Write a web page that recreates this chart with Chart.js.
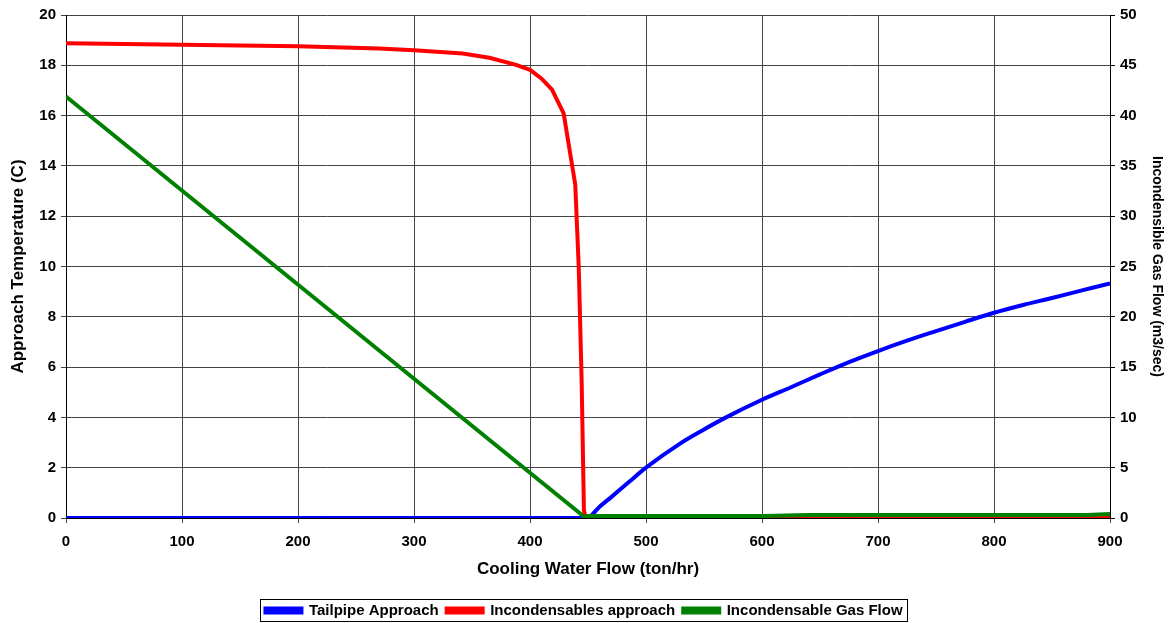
<!DOCTYPE html>
<html>
<head>
<meta charset="utf-8">
<script src="https://cdn.jsdelivr.net/npm/chart.js@4.4.1/dist/chart.umd.min.js"></script>
<style>
  html, body { margin: 0; padding: 0; background: #fff; }
  #wrap { width: 1168px; height: 623px; overflow: hidden; }
</style>
</head>
<body>
<div id="wrap"><canvas id="chart" width="1168" height="623"></canvas></div>
<script>
// flow values (ton/hr) and readings
const tailpipeFlow = [0, 100, 200, 300, 400, 449, 460, 471, 485, 500, 529, 550, 569, 600, 625, 650, 675, 700, 725, 750, 775, 800, 825, 850, 875, 900];
const tailpipeApproach = [0, 0, 0, 0, 0, 0, 0.45, 0.87, 1.42, 2.0, 2.95, 3.52, 4.0, 4.7, 5.2, 5.71, 6.2, 6.64, 7.05, 7.43, 7.8, 8.16, 8.47, 8.75, 9.04, 9.33];

const incondFlow = [0, 100, 200, 270, 300, 342, 365, 388, 400, 410, 419, 429, 439, 442, 444.5, 446.5, 448, 600, 900];
const incondApproach = [18.88, 18.82, 18.76, 18.67, 18.6, 18.47, 18.3, 18.02, 17.82, 17.47, 17.03, 16.09, 13.26, 10.0, 5.5, 0.3, 0, 0, 0];

const gasFlowX = [0, 447, 450, 600, 640, 880, 900];
const gasFlow = [41.9, 0.1, 0.2, 0.2, 0.3, 0.3, 0.4];

const leftTicks = [0, 2, 4, 6, 8, 10, 12, 14, 16, 18, 20];
const rightTicks = [0, 5, 10, 15, 20, 25, 30, 35, 40, 45, 50];

function toPoints(xs, ys) {
  return xs.map(function (x, i) { return { x: x, y: ys[i] }; });
}

Chart.defaults.font.family = '"Liberation Sans", Arial, sans-serif';
Chart.defaults.color = '#000';

// thin frame around the legend, as in the original
const legendFrame = {
  id: 'legendFrame',
  afterDraw: function (chart) {
    const boxes = chart.legend && chart.legend.legendHitBoxes;
    if (!boxes || !boxes.length) return;
    let l = Infinity, r = -Infinity, t = Infinity, b = -Infinity;
    boxes.forEach(function (h) {
      l = Math.min(l, h.left); r = Math.max(r, h.left + h.width);
      t = Math.min(t, h.top); b = Math.max(b, h.top + h.height);
    });
    const c = chart.ctx;
    c.save();
    c.strokeStyle = '#000';
    c.lineWidth = 1;
    c.strokeRect(Math.round(l - 5) + 0.5, Math.round(t - 4) + 0.5, Math.round(r - l + 10), Math.round(b - t + 7));
    c.restore();
  }
};

const ctx = document.getElementById('chart');

new Chart(ctx, {
  type: 'line',
  data: {
    datasets: [
      {
        label: 'Tailpipe Approach',
        data: toPoints(tailpipeFlow, tailpipeApproach),
        borderColor: '#0000ff',
        backgroundColor: '#0000ff',
        borderWidth: 4,
        pointRadius: 0,
        cubicInterpolationMode: 'monotone',
        yAxisID: 'y',
        order: 3
      },
      {
        label: 'Incondensables approach',
        data: toPoints(incondFlow, incondApproach),
        borderColor: '#ff0000',
        backgroundColor: '#ff0000',
        borderWidth: 4,
        pointRadius: 0,
        tension: 0,
        yAxisID: 'y',
        order: 2
      },
      {
        label: 'Incondensable Gas Flow',
        data: toPoints(gasFlowX, gasFlow),
        borderColor: '#008000',
        backgroundColor: '#008000',
        borderWidth: 4,
        pointRadius: 0,
        tension: 0,
        yAxisID: 'y1',
        order: 1
      }
    ]
  },
  options: {
    responsive: false,
    animation: false,
    layout: { padding: { left: 0, right: 0, top: 15, bottom: -5 } },
    plugins: {
      tooltip: { enabled: false },
      legend: {
        display: true,
        position: 'bottom',
        labels: {
          boxWidth: 36,
          boxHeight: 4,
          padding: 8,
          font: { size: 15, weight: 'bold' },
          sort: function (a, b) { return a.datasetIndex - b.datasetIndex; }
        }
      }
    },
    scales: {
      x: {
        type: 'linear',
        min: 0,
        max: 900,
        afterFit: function (axis) { axis.height = 77; },
        ticks: { stepSize: 100, font: { size: 15, weight: 'bold' }, padding: 10 },
        grid: { color: '#444', lineWidth: 1, tickLength: 5 },
        border: { color: '#000' },
        title: {
          display: true,
          text: 'Cooling Water Flow (ton/hr)',
          font: { size: 17, weight: 'bold' },
          padding: { top: 4, bottom: 15 }
        }
      },
      y: {
        type: 'linear',
        position: 'left',
        min: 0,
        max: 20,
        afterFit: function (axis) { axis.width = 66; },
        afterBuildTicks: function (axis) { axis.ticks = leftTicks.map(function (v) { return { value: v }; }); },
        ticks: { font: { size: 15, weight: 'bold' }, padding: 5 },
        grid: { color: '#444', lineWidth: 1, tickLength: 5 },
        border: { color: '#000' },
        title: {
          display: true,
          text: 'Approach Temperature (C)',
          font: { size: 17, weight: 'bold' },
          padding: { top: 8, bottom: 4 }
        }
      },
      y1: {
        type: 'linear',
        position: 'right',
        min: 0,
        max: 50,
        afterFit: function (axis) { axis.width = 58; },
        afterBuildTicks: function (axis) { axis.ticks = rightTicks.map(function (v) { return { value: v }; }); },
        ticks: { font: { size: 15, weight: 'bold' }, padding: 5 },
        grid: { drawOnChartArea: false, color: '#000', tickLength: 5 },
        border: { color: '#000' },
        title: {
          display: true,
          text: 'Incondensible Gas Flow (m3/sec)',
          font: { size: 14, weight: 'bold' },
          padding: { top: 3, bottom: 4 }
        }
      }
    }
  },
  plugins: [legendFrame]
});
</script>
</body>
</html>
